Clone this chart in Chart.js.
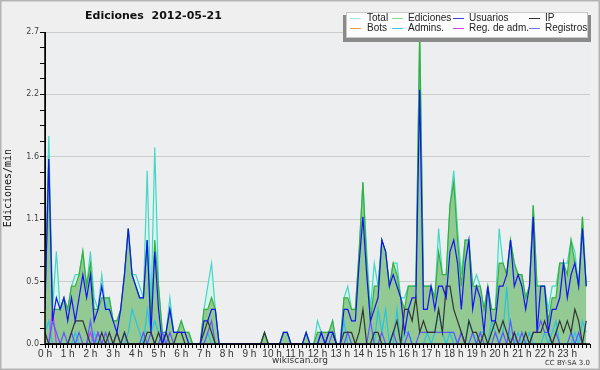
<html>
<head>
<script src="https://cdn.jsdelivr.net/npm/chart.js@4/dist/chart.umd.min.js"></script>
<style>
  body{ margin:0; background:#efefef; }
</style>
</head>
<body>
<canvas id="graph" width="600" height="370"></canvas>
<script>
// ediciones por minuto, promedio de 10 min (144 tramos, 0 h .. 23:50)
var seriesNames = ['Total', 'Ediciones', 'Usuarios', 'IP', 'Bots', 'Admins.', 'Reg. de adm.', 'Registros'];

var total = [
  0.4,1.8,0.3,0.8,0.3,0.4, 0.3,0.5,0.6,0.6,0.8,0.5, 0.8,0.4,0.3,0.6,0.3,0.4, 0.2,0.2,0.3,0.6,1.0,0.6,
  0.6,0.5,0.4,1.5,0.3,1.7, 0.5,0.1,0.1,0.4,0.1,0.1, 0.2,0.1,0.1,0,0,0, 0.3,0.5,0.7,0.3,0,0,
  0,0,0,0,0,0, 0,0,0,0,0.1,0, 0,0,0,0.1,0.1,0, 0,0,0,0.1,0,0,
  0.2,0.1,0.1,0.1,0.2,0, 0,0.4,0.5,0.3,0.3,0.8, 1.4,0.8,0.3,0.7,0.5,0.9, 0.8,0.5,0.7,0.7,0.4,0.4,
  0.5,0.5,0.5,2.7,0.5,0.5, 0.5,0.4,1.0,0.6,0.6,1.2, 1.5,1.0,0.6,0.9,0.9,0.5, 0.6,0.5,0.3,0.5,0.3,0.3,
  1.0,0.7,0.6,0.9,0.7,0.6, 0.6,0.4,0.5,1.2,0.5,0.5, 0.5,0.3,0.5,0.5,0.7,0.7, 0.7,0.9,0.8,0.5,1.1,0.5
];
var ediciones = [
  0.4,1.6,0.3,0.3,0.3,0.4, 0.3,0.5,0.5,0.6,0.8,0.5, 0.7,0.3,0.3,0.4,0.4,0.4, 0.2,0.2,0.3,0.6,1.0,0.6,
  0.5,0.4,0.4,0.9,0.2,0.9, 0.5,0.1,0.1,0.3,0.1,0.1, 0.2,0.1,0.1,0,0,0, 0.3,0.3,0.4,0.3,0,0,
  0,0,0,0,0,0, 0,0,0,0,0.1,0, 0,0,0,0.1,0.1,0, 0,0,0,0.1,0,0,
  0.1,0.1,0.1,0.1,0.2,0, 0,0.4,0.4,0.3,0.3,0.8, 1.4,0.7,0.2,0.5,0.5,0.9, 0.8,0.5,0.7,0.6,0.4,0.3,
  0.5,0.5,0.5,2.7,0.5,0.5, 0.5,0.4,0.8,0.6,0.6,1.2, 1.4,0.9,0.5,0.9,0.9,0.5, 0.5,0.5,0.3,0.5,0.3,0.3,
  0.7,0.7,0.6,0.9,0.7,0.6, 0.6,0.4,0.5,1.2,0.5,0.5, 0.5,0.2,0.4,0.4,0.7,0.7, 0.6,0.9,0.7,0.5,1.1,0.5
];
var usuarios = [
  0.3,1.6,0.2,0.4,0.3,0.4, 0.2,0.4,0.2,0.4,0.6,0.4, 0.6,0.2,0.3,0.5,0.3,0.3, 0.2,0.1,0.3,0.6,1.0,0.6,
  0.5,0.4,0.4,0.9,0.1,0.8, 0.3,0,0.1,0.3,0.1,0.1, 0.1,0.1,0,0,0,0, 0.2,0.2,0.3,0.3,0,0,
  0,0,0,0,0,0, 0,0,0,0,0,0, 0,0,0,0.1,0.1,0, 0,0,0,0.1,0,0,
  0,0.1,0,0.1,0.1,0, 0,0.3,0.3,0.2,0.2,0.7, 1.1,0.6,0.2,0.3,0.4,0.9, 0.8,0.5,0.6,0.5,0.4,0.1,
  0.3,0.4,0.4,2.2,0.3,0.3, 0.5,0.3,0.5,0.5,0.4,0.8, 0.9,0.7,0.3,0.7,0.9,0.3, 0.5,0.4,0.1,0.5,0.2,0.2,
  0.5,0.5,0.6,0.9,0.5,0.6, 0.5,0.3,0.5,1.1,0.1,0.5, 0.5,0.1,0.3,0.3,0.4,0.7, 0.4,0.6,0.7,0.5,1.0,0.5
];
var ip = [
  0.1,0,0,0,0,0, 0,0.1,0.2,0.2,0.2,0.1, 0,0,0,0.1,0,0.1, 0,0.1,0,0.1,0,0,
  0,0,0,0.1,0.1,0, 0.1,0,0.1,0,0,0.1, 0.1,0,0,0,0,0, 0.1,0.2,0.1,0,0,0,
  0,0,0,0,0,0, 0,0,0,0,0.1,0, 0,0,0,0,0,0, 0,0,0,0,0,0,
  0,0,0,0.1,0.1,0, 0,0.1,0.1,0.1,0,0.1, 0.3,0,0,0.1,0.1,0, 0,0,0.1,0.2,0,0.3,
  0.3,0.2,0.4,0.1,0.2,0.1, 0.1,0.1,0.3,0.1,0.5,0.5, 0.3,0.2,0.1,0,0.2,0.1, 0.1,0,0.1,0,0.1,0.2,
  0.1,0.2,0.1,0,0.1,0, 0,0.1,0,0.1,0.1,0.1, 0.2,0.1,0,0.1,0.2,0.1, 0.2,0.1,0.3,0.2,0,0.2
];
var bots = new Array(144).fill(0);
var admins = [
  0.1,0.2,0,0,0,0, 0,0,0.1,0,0,0, 0,0.1,0,0,0,0, 0,0,0,0,0.1,0.3,
  0.2,0.1,0,0.3,0.1,0.2, 0.1,0,0,0,0,0, 0,0,0,0,0,0, 0,0.1,0,0,0,0,
  0,0,0,0,0,0, 0,0,0,0,0,0, 0,0,0,0,0,0, 0,0,0,0,0,0,
  0,0,0,0,0,0, 0,0.2,0,0,0,0, 0,0,0,0,0.3,0.1, 0.3,0,0,0.3,0,0.1,
  0.1,0,0,0,0,0.1, 0,0.1,0.3,0.1,0,0.1, 0,0,0.1,0,0.2,0.1, 0,0.1,0.1,0,0.2,0.1,
  0,0.1,0.5,0,0,0.1, 0,0,0.1,0,0,0, 0.1,0,0.1,0.2,0,0, 0,0,0.1,0,0.2,0.1
];
var regAdm = [
  0,0,0.3,0,0,0, 0,0,0,0,0,0, 0.1,0,0.1,0,0,0, 0,0,0,0,0,0,
  0,0,0,0,0,0, 0,0,0,0,0,0, 0,0,0,0,0,0, 0,0,0,0,0,0,
  0,0,0,0,0,0, 0,0,0,0,0,0, 0,0,0,0,0,0, 0,0,0,0,0,0,
  0,0,0,0,0,0, 0,0,0,0,0,0, 0,0,0,0,0,0, 0,0,0,0,0,0,
  0,0,0,0,0,0, 0,0,0,0,0,0, 0,0,0.1,0,0,0, 0,0,0,0,0,0,
  0,0,0,0,0.1,0, 0,0,0,0,0,0, 0,0,0,0,0,0, 0,0,0,0,0,0
];
var registros = [
  0,0,0.2,0.1,0,0.1, 0,0.1,0,0.1,0,0, 0.2,0,0.1,0,0.1,0, 0,0.1,0,0.1,0,0,
  0,0,0.1,0,0.1,0, 0,0.1,0,0.1,0,0, 0,0,0,0,0,0, 0,0.1,0.2,0,0,0,
  0,0,0,0,0,0, 0,0,0,0,0,0, 0,0,0,0,0,0, 0,0,0,0,0,0,
  0,0.1,0,0,0.1,0, 0,0,0.1,0,0,0, 0,0,0.2,0,0,0.1, 0,0,0.1,0,0,0,
  0.1,0,0,0.1,0.1,0.1, 0.1,0.1,0.1,0.1,0.1,0.1, 0.1,0,0.1,0,0,0.1, 0,0.1,0,0,0,0.1,
  0,0.1,0,0.2,0,0, 0.1,0,0,0.1,0.1,0.2, 0.1,0.1,0,0.1,0,0, 0,0.1,0,0.1,0,0
];

var lineColors = ['#44d6c6', '#38b038', '#1414f0', '#333333', '#f0a040', '#28c4e0', '#d040e0', '#5a5aff'];
var legendColors = ['#a8e4e0', '#8ad88a', '#3c3ce0', '#303030', '#f0a040', '#40c8e0', '#d040e0', '#7070ff'];

function pts(arr){ return arr.map(function(v, i){ return {x: i / 6, y: v}; }); }

var allSeries = [total, ediciones, usuarios, ip, bots, admins, regAdm, registros];
var drawOrder = [8, 7, 1, 2, 6, 5, 4, 3];
var datasets = allSeries.map(function(s, k){
  return {
    label: seriesNames[k],
    data: pts(s),
    borderColor: lineColors[k],
    borderWidth: 1.2,
    pointRadius: 0,
    tension: 0,
    order: drawOrder[k],
    fill: k < 2 ? 'origin' : false,
    backgroundColor: k === 0 ? 'rgba(214,243,236,0.95)' : (k === 1 ? '#93c993' : lineColors[k])
  };
});

var decor = {
  id: 'decor',
  beforeDraw: function(c){
    var ctx = c.ctx, a = c.chartArea;
    ctx.save();
    ctx.fillStyle = '#efefef';
    ctx.fillRect(0, 0, 600, 370);
    ctx.fillStyle = '#edeef0';
    ctx.fillRect(a.left, a.top, a.right - a.left, a.bottom - a.top);
    ctx.strokeStyle = '#b4b4b4';
    ctx.lineWidth = 1.5;
    ctx.strokeRect(0.75, 0.75, 598.5, 368.5);
    ctx.restore();
  },
  afterDatasetsDraw: function(c){
    var ctx = c.ctx, a = c.chartArea;
    ctx.save();
    ctx.strokeStyle = '#000';
    ctx.lineWidth = 1.5;
    ctx.beginPath();
    ctx.moveTo(a.left, a.top);
    ctx.lineTo(a.left, a.bottom);
    ctx.lineTo(a.right, a.bottom);
    ctx.stroke();
    ctx.restore();
  },
  afterDraw: function(c){
    var ctx = c.ctx;
    ctx.save();
    // titulo
    ctx.fillStyle = '#111';
    ctx.font = 'bold 11px "DejaVu Sans"';
    ctx.textBaseline = 'middle';
    ctx.textAlign = 'left';
    ctx.fillText('Ediciones  2012-05-21', 85, 16);

    // leyenda
    ctx.fillStyle = '#8a8a8a';
    ctx.fillRect(343, 15, 248, 27);
    ctx.fillStyle = '#fcfcfc';
    ctx.fillRect(346, 12, 242, 26);
    ctx.strokeStyle = '#c8c8c8';
    ctx.lineWidth = 1;
    ctx.strokeRect(346.5, 12.5, 241, 25);
    var colX = [350, 392, 453, 529];
    var txtX = [367, 408, 469, 545];
    var rowY = [18.5, 28.5];
    ctx.font = '10px "Liberation Sans"';
    for (var k = 0; k < seriesNames.length; k++) {
      var col = k % 4, row = Math.floor(k / 4);
      ctx.strokeStyle = legendColors[k];
      ctx.beginPath();
      ctx.moveTo(colX[col], rowY[row]);
      ctx.lineTo(colX[col] + 11, rowY[row]);
      ctx.stroke();
      ctx.fillStyle = '#222';
      ctx.fillText(seriesNames[k], txtX[col], rowY[row]);
    }

    // pie
    ctx.fillStyle = '#333';
    ctx.font = '9px "DejaVu Sans"';
    ctx.textAlign = 'center';
    ctx.fillText('wikiscan.org', 300, 361);
    ctx.font = '7px "DejaVu Sans"';
    ctx.textAlign = 'right';
    ctx.fillText('CC BY-SA 3.0', 590, 363);
    ctx.restore();
  }
};

var graph = new Chart(document.getElementById('graph'), {
  type: 'line',
  data: { datasets: datasets },
  plugins: [decor],
  options: {
    responsive: false,
    animation: false,
    layout: { padding: { left: 0, right: 10, top: 32, bottom: 0 } },
    plugins: {
      legend: { display: false },
      title: { display: false },
      tooltip: { enabled: false },
      filler: { drawTime: 'beforeDatasetsDraw' }
    },
    scales: {
      x: {
        type: 'linear',
        min: 0,
        max: 24,
        afterFit: function(s){ s.height = 26; },
        border: { color: '#000', width: 1 },
        grid: { drawOnChartArea: false, tickLength: 4, tickColor: '#000' },
        ticks: {
          stepSize: 1 / 6,
          autoSkip: false,
          maxRotation: 0,
          padding: 0,
          color: '#333',
          font: { family: 'Liberation Sans', size: 10 },
          callback: function(v){
            var h = Math.round(v);
            return (Math.abs(v - h) < 1e-6 && h < 24) ? h + ' h' : '';
          }
        }
      },
      y: {
        min: 0,
        max: 2.7,
        afterFit: function(s){ s.width = 45; },
        border: { color: '#000', width: 1 },
        grid: {
          color: function(ctx){ return ctx.index % 4 === 0 ? '#cbcbcb' : 'rgba(0,0,0,0)'; },
          tickColor: '#000',
          tickLength: 5
        },
        title: {
          display: true,
          text: 'Ediciones/min',
          color: '#111',
          padding: { top: 2, bottom: 0 },
          font: { family: 'DejaVu Sans Mono', size: 10 }
        },
        ticks: {
          stepSize: 0.135,
          autoSkip: false,
          padding: 1,
          color: '#444',
          font: { family: 'DejaVu Sans', size: 8 },
          callback: function(v, i){ return i % 4 === 0 ? v.toFixed(1) : ''; }
        }
      }
    }
  }
});
</script>
</body>
</html>
